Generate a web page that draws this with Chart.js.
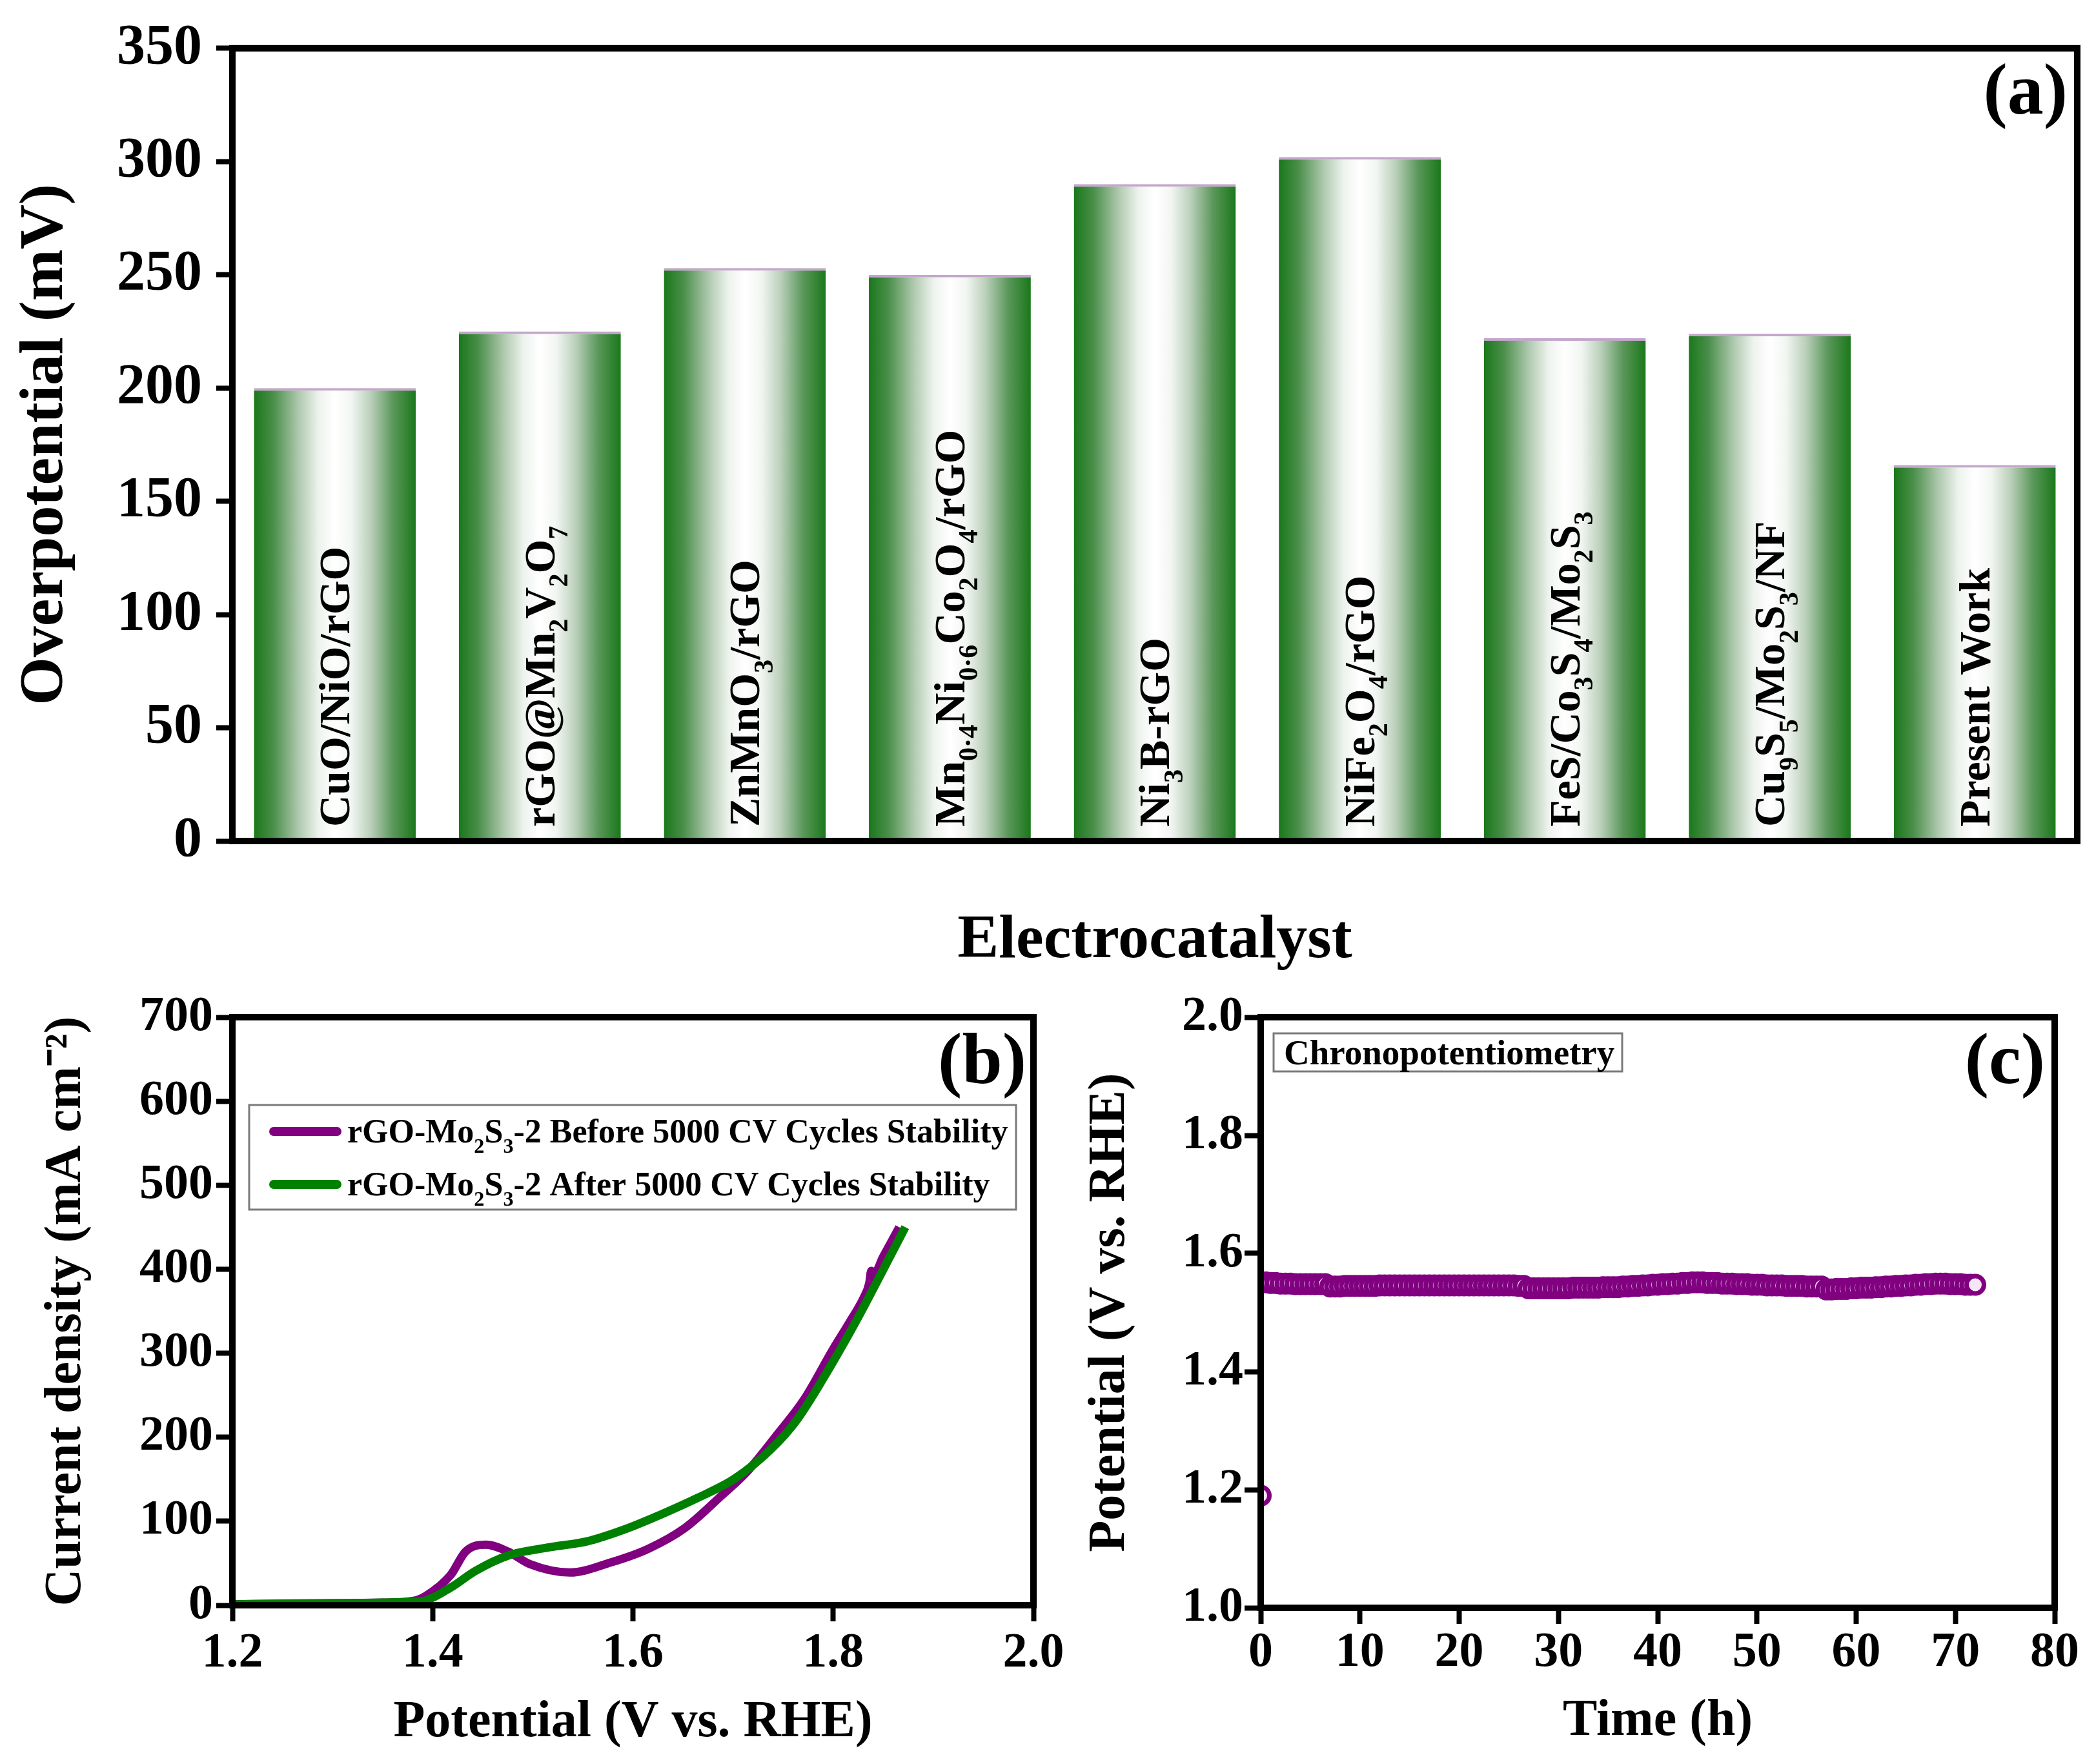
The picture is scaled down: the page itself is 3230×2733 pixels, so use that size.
<!DOCTYPE html>
<html>
<head>
<meta charset="utf-8">
<script src="https://cdn.jsdelivr.net/npm/chart.js@4.4.1/dist/chart.umd.min.js"></script>
<style>
  html, body { margin: 0; padding: 0; background: #fff; }
  #page { position: relative; width: 3230px; height: 2733px; background: #fff; }
  canvas { position: absolute; }
</style>
</head>
<body>
<div id="page">
  <canvas id="chartA" width="3230" height="1520" style="left:0;top:0;width:3230px;height:1520px"></canvas>
  <canvas id="chartB" width="1700" height="1233" style="left:0;top:1500px;width:1700px;height:1233px"></canvas>
  <canvas id="chartC" width="1610" height="1233" style="left:1620px;top:1500px;width:1610px;height:1233px"></canvas>
</div>
<script>
// (a) overpotential of the electrocatalysts, _ = subscript
const catalysts = ['CuO/NiO/rGO', 'rGO@Mn_2V_2O_7', 'ZnMnO_3/rGO', 'Mn_{0·4}Ni_{0·6}Co_2O_4/rGO',
  'Ni_3B-rGO', 'NiFe_2O_4/rGO', 'FeS/Co_3S_4/Mo_2S_3', 'Cu_9S_5/Mo_2S_3/NF', 'Present Work'];
const overpotential = [200, 225, 253, 250, 290, 302, 222, 224, 166];
const overpotTicks = [0, 50, 100, 150, 200, 250, 300, 350];

// (b) LSV before / after 5000 CV cycles
const potentialBefore = [1.20, 1.25, 1.30, 1.35, 1.38, 1.393, 1.418, 1.433, 1.453, 1.475, 1.497, 1.537, 1.578, 1.615,
  1.652, 1.689, 1.714, 1.744, 1.771, 1.80, 1.817, 1.83, 1.836, 1.838, 1.840, 1.85, 1.866];
const currentBefore = [1, 2, 2.5, 3, 5, 11, 36, 64, 72, 64, 49, 39, 51, 67,
  92, 131, 159, 203, 245, 305, 338, 365, 383, 398, 393, 415, 450];
const potentialAfter = [1.20, 1.25, 1.30, 1.35, 1.38, 1.393, 1.418, 1.443, 1.475, 1.517, 1.554, 1.591, 1.628, 1.665,
  1.702, 1.739, 1.764, 1.80, 1.826, 1.848, 1.872];
const currentAfter = [1, 1.5, 2, 3, 4, 5.5, 21, 41, 59, 69, 76, 90, 108, 128,
  151, 187, 221, 290, 345, 395, 450];
const legendNames = ['rGO-Mo_2S_3-2 Before 5000 CV Cycles Stability', 'rGO-Mo_2S_3-2 After 5000 CV Cycles Stability'];

// (c) chronopotentiometry
const timeHours = [0,0.5,1,1.5,2,2.5,3,3.5,4,4.5,5,5.5,6,6.5,7,7.5,8,8.5,9,9.5,10,10.5,11,11.5,12,12.5,13,13.5,14,14.5,
  15,15.5,16,16.5,17,17.5,18,18.5,19,19.5,20,20.5,21,21.5,22,22.5,23,23.5,24,24.5,25,25.5,26,26.5,27,27.5,28,28.5,29,29.5,
  30,30.5,31,31.5,32,32.5,33,33.5,34,34.5,35,35.5,36,36.5,37,37.5,38,38.5,39,39.5,40,40.5,41,41.5,42,42.5,43,43.5,44,44.5,
  45,45.5,46,46.5,47,47.5,48,48.5,49,49.5,50,50.5,51,51.5,52,52.5,53,53.5,54,54.5,55,55.5,56,56.5,57,57.5,58,58.5,59,59.5,
  60,60.5,61,61.5,62,62.5,63,63.5,64,64.5,65,65.5,66,66.5,67,67.5,68,68.5,69,69.5,70,70.5,71,71.5,72];
const potentialC = [1.19,
  1.551,1.550,1.550,1.549,1.549,1.549,1.548,1.548,1.548,1.548,1.548,1.548,1.548,
  1.544,1.544,1.544,1.545,1.545,1.545,1.545,1.545,1.545,1.545,
  1.546,1.546,1.546,1.546,1.546,1.546,1.546,1.546,1.546,1.546,
  1.546,1.546,1.546,1.546,1.546,1.546,1.546,1.546,1.546,1.546,
  1.546,1.546,1.546,1.546,1.546,1.546,1.546,1.546,1.545,1.545,
  1.541,1.541,1.541,1.541,1.541,1.541,1.541,1.541,1.541,1.542,1.542,1.542,1.542,1.542,1.542,1.543,1.543,
  1.543,1.543,1.544,1.544,1.545,1.545,1.546,1.546,1.547,1.547,1.548,1.548,1.549,1.549,1.550,1.550,
  1.551,1.551,1.551,1.550,1.550,1.550,
  1.549,1.549,1.549,1.548,1.548,1.548,1.547,1.547,1.547,1.546,1.546,1.546,1.546,1.545,1.545,1.545,1.545,1.544,1.544,1.544,1.544,
  1.539,1.539,1.540,1.540,1.540,1.541,1.541,
  1.542,1.542,1.542,1.543,1.543,1.544,1.544,1.545,1.545,1.546,1.546,1.547,1.547,1.548,
  1.548,1.549,1.549,1.549,1.548,1.548,1.548,1.547,1.547,1.547];

const serif = "'Liberation Serif', 'Times New Roman', serif";
const PURPLE = '#800080';
const GREEN = '#008000';
const barShare = 0.79;

Chart.defaults.font.family = serif;
Chart.defaults.font.weight = 'bold';
Chart.defaults.color = '#000';

function bold(size) { return { family: serif, size: size, weight: 'bold' }; }

// split "Mo_2S_3" / "x^{-2}" into plain, sub and sup pieces
function parseRich(str) {
  const parts = [];
  let buf = '', i = 0;
  while (i < str.length) {
    const c = str[i];
    if (c === '_' || c === '^') {
      if (buf) { parts.push({ t: buf, k: 0 }); buf = ''; }
      let seg;
      if (str[i + 1] === '{') { const j = str.indexOf('}', i); seg = str.slice(i + 2, j); i = j + 1; }
      else { seg = str[i + 1]; i += 2; }
      parts.push({ t: seg, k: c === '_' ? 1 : -1 });
    } else { buf += c; i++; }
  }
  if (buf) parts.push({ t: buf, k: 0 });
  return parts;
}

function drawRich(ctx, str, x, y, size) {
  let cx = x;
  for (const p of parseRich(str)) {
    const s = p.k ? size * 0.62 : size;
    ctx.font = 'bold ' + s + 'px ' + serif;
    const dy = p.k === 1 ? size * 0.3 : (p.k === -1 ? -size * 0.4 : 0);
    ctx.fillText(p.t, cx, y + dy);
    cx += ctx.measureText(p.t).width;
  }
  return cx - x;
}

const framePlugin = {
  id: 'frame',
  afterDatasetsDraw(chart) {
    const { ctx, chartArea: a } = chart;
    ctx.save();
    ctx.lineWidth = 10;
    ctx.strokeStyle = '#000';
    ctx.strokeRect(a.left, a.top, a.right - a.left, a.bottom - a.top);
    ctx.restore();
  }
};

function panelLetter(text, dx, dy) {
  return {
    id: 'letter' + text,
    afterDraw(chart) {
      const { ctx, chartArea: a } = chart;
      ctx.save();
      ctx.fillStyle = '#000';
      ctx.font = 'bold 112px ' + serif;
      ctx.textAlign = 'right';
      ctx.textBaseline = 'top';
      ctx.fillText(text, a.right - dx, a.top + dy);
      ctx.restore();
    }
  };
}

function barGradient(context) {
  const chart = context.chart;
  const xs = chart.scales.x;
  if (!xs || !chart.chartArea) return '#2a802a';
  const c = xs.getPixelForValue(context.dataIndex);
  const half = xs.width / catalysts.length * barShare / 2;
  const g = chart.ctx.createLinearGradient(c - half, 0, c + half, 0);
  g.addColorStop(0, '#1a781a');
  g.addColorStop(0.12, '#4a8e4a');
  g.addColorStop(0.28, '#b0cab0');
  g.addColorStop(0.40, '#eef3ee');
  g.addColorStop(0.50, '#ffffff');
  g.addColorStop(0.60, '#f2f6f2');
  g.addColorStop(0.72, '#bbd0bb');
  g.addColorStop(0.86, '#5a975a');
  g.addColorStop(1, '#1a781a');
  return g;
}

const barLabels = {
  id: 'barLabels',
  afterDatasetsDraw(chart) {
    const ctx = chart.ctx;
    const base = chart.scales.y.getPixelForValue(0);
    const size = 68;
    ctx.save();
    ctx.fillStyle = '#000';
    ctx.textAlign = 'left';
    ctx.textBaseline = 'alphabetic';
    chart.getDatasetMeta(0).data.forEach((bar, i) => {
      ctx.save();
      ctx.translate(bar.x, base - 22);
      ctx.rotate(-Math.PI / 2);
      drawRich(ctx, catalysts[i], 0, size * 0.33, size);
      ctx.restore();
    });
    ctx.restore();
  }
};

// ---------- (a) ----------
new Chart(document.getElementById('chartA'), {
  type: 'bar',
  data: {
    labels: catalysts.map(s => s.replace(/[_{}]/g, '')),
    datasets: [{
      data: overpotential,
      backgroundColor: barGradient,
      borderColor: '#c4a6cc',
      borderWidth: { top: 4, left: 0, right: 0, bottom: 0 },
      borderSkipped: 'start',
      barPercentage: barShare,
      categoryPercentage: 1
    }]
  },
  options: {
    responsive: false, animation: false, devicePixelRatio: 1,
    layout: { padding: { left: 0, right: 12, top: 64, bottom: 0 } },
    plugins: { legend: { display: false }, tooltip: { enabled: false } },
    scales: {
      x: {
        offset: true,
        grid: { display: false }, border: { display: false },
        ticks: { display: false },
        title: { display: true, text: 'Electrocatalyst', font: bold(96), color: '#000', padding: { top: 0, bottom: 4 } },
        afterFit: s => { s.height = 217; }
      },
      y: {
        min: 0, max: 350,
        afterBuildTicks: s => { s.ticks = overpotTicks.map(v => ({ value: v })); },
        ticks: { font: bold(88), color: '#000', padding: 22 },
        grid: { drawOnChartArea: false, tickLength: 25, tickWidth: 8, tickColor: '#000' },
        border: { display: false },
        title: { display: true, text: 'Overpotential (mV)', font: bold(96), color: '#000', padding: { top: 14, bottom: 0 } },
        afterFit: s => { s.width = 360; }
      }
    }
  },
  plugins: [barLabels, framePlugin, panelLetter('(a)', 15, 16)]
});

// ---------- (b) ----------
const legendB = {
  id: 'legendB',
  afterDraw(chart) {
    const { ctx, chartArea: a } = chart;
    const left = a.left + 26, top = a.top + 136, w = 1188, h = 162;
    ctx.save();
    ctx.fillStyle = '#fff';
    ctx.fillRect(left, top, w, h);
    ctx.strokeStyle = '#7a7a7a';
    ctx.lineWidth = 3;
    ctx.strokeRect(left, top, w, h);
    [PURPLE, GREEN].forEach((col, i) => {
      const cy = top + 41 + i * 82;
      ctx.strokeStyle = col;
      ctx.lineWidth = 14;
      ctx.lineCap = 'round';
      ctx.beginPath();
      ctx.moveTo(left + 38, cy);
      ctx.lineTo(left + 136, cy);
      ctx.stroke();
      ctx.fillStyle = '#000';
      ctx.textAlign = 'left';
      ctx.textBaseline = 'alphabetic';
      drawRich(ctx, legendNames[i], left + 152, cy + 17, 52);
    });
    ctx.restore();
  }
};

new Chart(document.getElementById('chartB'), {
  type: 'line',
  data: {
    datasets: [
      {
        label: 'before',
        data: potentialBefore.map((v, i) => ({ x: v, y: currentBefore[i] })),
        borderColor: PURPLE, borderWidth: 13, pointRadius: 0,
        cubicInterpolationMode: 'monotone', order: 1
      },
      {
        label: 'after',
        data: potentialAfter.map((v, i) => ({ x: v, y: currentAfter[i] })),
        borderColor: GREEN, borderWidth: 13, pointRadius: 0,
        cubicInterpolationMode: 'monotone', order: 0
      }
    ]
  },
  options: {
    responsive: false, animation: false, devicePixelRatio: 1,
    layout: { padding: { left: 0, right: 99, top: 76, bottom: 0 } },
    plugins: { legend: { display: false }, tooltip: { enabled: false } },
    scales: {
      x: {
        type: 'linear', min: 1.2, max: 2.0,
        ticks: { stepSize: 0.2, font: bold(76), color: '#000', padding: 5, maxRotation: 0,
          callback: v => v.toFixed(1) },
        grid: { drawOnChartArea: false, tickLength: 25, tickWidth: 8, tickColor: '#000' },
        border: { display: false },
        title: { display: true, text: 'Potential (V vs. RHE)', font: bold(80), color: '#000', padding: { top: 0, bottom: 16 } },
        afterFit: s => { s.height = 246; }
      },
      y: {
        min: 0, max: 700,
        ticks: { stepSize: 100, font: bold(76), color: '#000', padding: 5 },
        grid: { drawOnChartArea: false, tickLength: 25, tickWidth: 8, tickColor: '#000' },
        border: { display: false },
        title: { display: true, text: 'Current density (mA cm⁻²)', font: bold(80), color: '#000', padding: { top: 55, bottom: 0 } },
        afterFit: s => { s.width = 360; }
      }
    }
  },
  plugins: [framePlugin, legendB, panelLetter('(b)', 11, 17)]
});

// ---------- (c) ----------
const labelC = {
  id: 'labelC',
  afterDraw(chart) {
    const { ctx, chartArea: a } = chart;
    const left = a.left + 20, top = a.top + 25, w = 540, h = 59;
    ctx.save();
    ctx.fillStyle = '#fff';
    ctx.fillRect(left, top, w, h);
    ctx.strokeStyle = '#7a7a7a';
    ctx.lineWidth = 3;
    ctx.strokeRect(left, top, w, h);
    ctx.fillStyle = '#000';
    ctx.textAlign = 'left';
    ctx.textBaseline = 'alphabetic';
    drawRich(ctx, 'Chronopotentiometry', left + 16, top + h / 2 + 18, 55);
    ctx.restore();
  }
};

new Chart(document.getElementById('chartC'), {
  type: 'scatter',
  data: {
    datasets: [{
      data: timeHours.map((t, i) => ({ x: t, y: potentialC[i] })),
      pointRadius: 13.5, pointBorderWidth: 7,
      pointBackgroundColor: '#f5e6f5', pointBorderColor: PURPLE,
      showLine: false
    }]
  },
  options: {
    responsive: false, animation: false, devicePixelRatio: 1,
    layout: { padding: { left: 0, right: 47, top: 76, bottom: 0 } },
    plugins: { legend: { display: false }, tooltip: { enabled: false } },
    scales: {
      x: {
        type: 'linear', min: 0, max: 80,
        ticks: { stepSize: 10, font: bold(76), color: '#000', padding: 0, maxRotation: 0 },
        grid: { drawOnChartArea: false, tickLength: 25, tickWidth: 8, tickColor: '#000' },
        border: { display: false },
        title: { display: true, text: 'Time (h)', font: bold(80), color: '#000', padding: { top: 0, bottom: 18 } },
        afterFit: s => { s.height = 242; }
      },
      y: {
        min: 1.0, max: 2.0,
        ticks: { stepSize: 0.2, font: bold(76), color: '#000', padding: 2, callback: v => v.toFixed(1) },
        grid: { drawOnChartArea: false, tickLength: 25, tickWidth: 8, tickColor: '#000' },
        border: { display: false },
        title: { display: true, text: 'Potential (V vs. RHE)', font: bold(80), color: '#000', padding: { top: 52, bottom: 0 } },
        afterFit: s => { s.width = 333; }
      }
    }
  },
  plugins: [framePlugin, labelC, panelLetter('(c)', 15, 17)]
});
</script>
</body>
</html>
